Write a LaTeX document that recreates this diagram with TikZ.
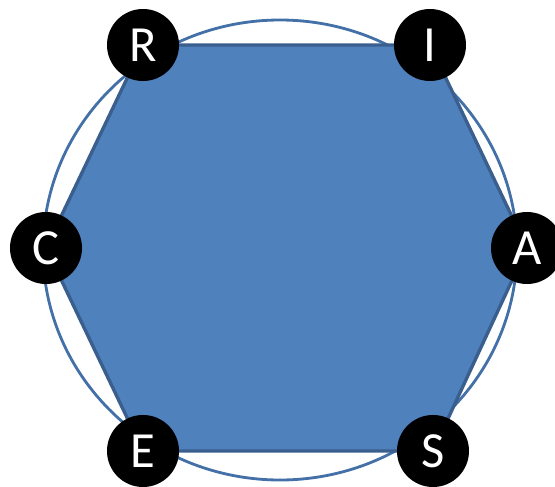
\documentclass[tikz,border=0pt]{standalone}
\usepackage{fontspec}
\setsansfont{Carlito}
\usepackage{tikz}
\usetikzlibrary{positioning, backgrounds}
\definecolor{hexblue}{HTML}{4F81BD}
\definecolor{hexedge}{HTML}{3A5F8E}
\definecolor{ringblue}{HTML}{4470A8}
\tikzset{
    letterdot/.style={circle, fill=black, minimum size=1.8cm, inner sep=0pt,
        text=white, font=\sffamily\fontsize{36}{36}\selectfont},
}

\begin{document}
\begin{tikzpicture}[x=0.025cm, y=-0.025cm]
    \useasboundingbox (0,0) rectangle (555,487);
    \node [letterdot] (R) at (143,45) {R};
    \node [letterdot] (I) at (430,45) {I};
    \node [letterdot] (A) at (527,248) {A};
    \node [letterdot] (S) at (433,451) {S};
    \node [letterdot] (E) at (143,451) {E};
    \node [letterdot] (C) at (46,248) {C};
    \begin{scope}[on background layer]
        \coordinate (mid) at (280,250);
        \draw [ringblue, line width=2pt] (mid) ellipse [x radius=237, y radius=230];
        \filldraw [fill=hexblue, draw=hexedge, line width=2.4pt, line join=round]
            (R.center) -- (I.center) -- (A.center) -- (S.center)
            -- (E.center) -- (C.center) -- cycle;
    \end{scope}
\end{tikzpicture}
\end{document}
